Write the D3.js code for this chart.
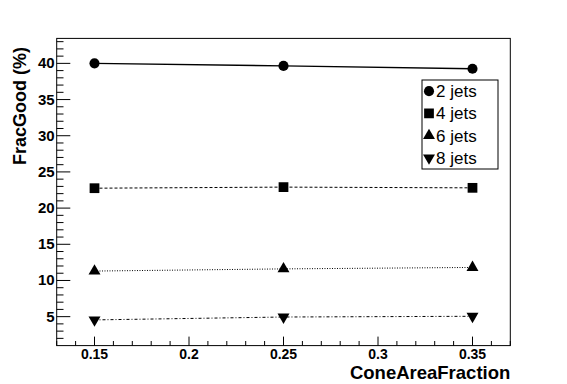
<!DOCTYPE html>
<html><head><meta charset="utf-8">
<script src="https://cdn.jsdelivr.net/npm/d3@7"></script>
<style>body{margin:0;background:#fff}svg{display:block}</style>
</head><body>
<script>
const xValues = [0.15, 0.25, 0.35];
const jets2 = [40.0, 39.65, 39.25];
const jets4 = [22.75, 22.9, 22.8];
const jets6 = [11.3, 11.6, 11.8];
const jets8 = [4.55, 4.95, 5.05];
const seriesNames = ["2 jets", "4 jets", "6 jets", "8 jets"];
const xTicks = [0.15, 0.2, 0.25, 0.3, 0.35];
const yTicks = [5, 10, 15, 20, 25, 30, 35, 40];

const W = 567, H = 384;
const L = 56.7, R = 510.3, T = 38.4, B = 345.6;
const svg = d3.select("body").append("svg").attr("width", W).attr("height", H);
const x = d3.scaleLinear().domain([0.13, 0.37]).range([L, R]);
const y = d3.scaleLinear().domain([1.0, 43.45]).range([B, T]);

const font = "Liberation Sans, Arial, Helvetica, sans-serif";

// frame
svg.append("rect").attr("x", L).attr("y", T).attr("width", R - L).attr("height", B - T)
  .attr("fill", "none").attr("stroke", "#000").attr("stroke-width", 1);

// x axis
const xMinor = d3.range(13, 38).map(d => d / 100);
const gx = svg.append("g");
xMinor.forEach(v => {
  const major = xTicks.some(t => Math.abs(t - v) < 1e-9);
  gx.append("line").attr("x1", x(v)).attr("x2", x(v)).attr("y1", B).attr("y2", B - (major ? 9 : 4.6))
    .attr("stroke", "#000").attr("stroke-width", 1);
});
xTicks.forEach(v => {
  gx.append("text").attr("x", x(v)).attr("y", 359).attr("text-anchor", "middle")
    .attr("font-family", font).attr("font-weight", "bold").attr("font-size", 14).text(d3.format("")(v));
});
svg.append("text").attr("x", R).attr("y", 379).attr("text-anchor", "end")
  .attr("font-family", font).attr("font-weight", "bold").attr("font-size", 18.5).text("ConeAreaFraction");

// y axis
const gy = svg.append("g");
d3.range(2, 44).forEach(v => {
  const major = v % 5 === 0;
  gy.append("line").attr("x1", L).attr("x2", L + (major ? 13.6 : 6.8)).attr("y1", y(v)).attr("y2", y(v))
    .attr("stroke", "#000").attr("stroke-width", 1);
});
yTicks.forEach(v => {
  gy.append("text").attr("x", L - 2).attr("y", y(v) + 5).attr("text-anchor", "end")
    .attr("font-family", font).attr("font-weight", "bold").attr("font-size", 15).text(v);
});
svg.append("text").attr("transform", `translate(26,47) rotate(-90)`).attr("text-anchor", "end")
  .attr("font-family", font).attr("font-weight", "bold").attr("font-size", 18).text("FracGood (%)");

// series
const series = [
  {name: seriesNames[0], vals: jets2, dash: null, sym: d3.symbolCircle, size: 80, rot: 0, w: 1.4},
  {name: seriesNames[1], vals: jets4, dash: "3,2", sym: d3.symbolSquare, size: 95, rot: 0, w: 1},
  {name: seriesNames[2], vals: jets6, dash: "1,1.5", sym: d3.symbolTriangle, size: 62, rot: 0, w: 1},
  {name: seriesNames[3], vals: jets8, dash: "3,2,1,2", sym: d3.symbolTriangle, size: 62, rot: 180, w: 1}
];
const line = d3.line().x(d => x(d[0])).y(d => y(d[1]));
series.forEach(s => {
  const pts = xValues.map((xv, i) => [xv, s.vals[i]]);
  svg.append("path").attr("d", line(pts)).attr("fill", "none").attr("stroke", "#000")
    .attr("stroke-width", s.w).attr("stroke-dasharray", s.dash);
  pts.forEach(p => {
    svg.append("path").attr("d", d3.symbol().type(s.sym).size(s.size)())
      .attr("transform", `translate(${x(p[0])},${y(p[1])}) rotate(${s.rot})`).attr("fill", "#000");
  });
});

// legend
const lgX = 422, lgY = 80, lgW = 76, lgH = 89;
svg.append("rect").attr("x", lgX).attr("y", lgY).attr("width", lgW).attr("height", lgH)
  .attr("fill", "#fff").attr("stroke", "#000").attr("stroke-width", 1);
series.forEach((s, i) => {
  const cy = lgY + lgH * (i + 0.5) / 4;
  svg.append("path").attr("d", d3.symbol().type(s.sym).size(s.size)())
    .attr("transform", `translate(${lgX + 7},${cy}) rotate(${s.rot})`).attr("fill", "#000");
  svg.append("text").attr("x", lgX + 14).attr("y", cy + 6).attr("font-family", font)
    .attr("font-size", 17).text(s.name);
});
</script>
</body></html>
